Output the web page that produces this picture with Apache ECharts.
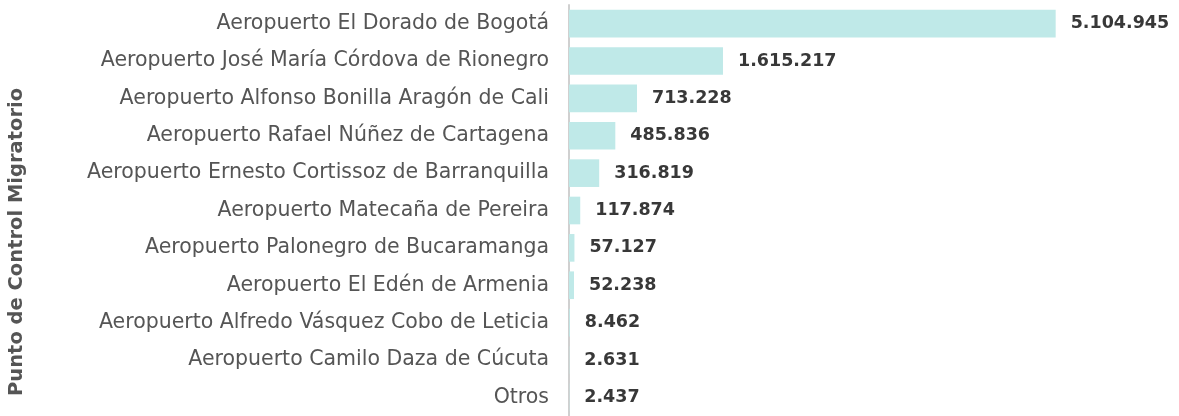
<!DOCTYPE html>
<html><head><meta charset="utf-8">
<script src="https://cdn.jsdelivr.net/npm/echarts@6/dist/echarts.min.js"></script>
<style>html,body{margin:0;padding:0;background:#fff}#c{width:1179px;height:416px}</style>
</head><body><div id="c"></div>
<script>
const categories = [
  "Aeropuerto El Dorado de Bogotá",
  "Aeropuerto José María Córdova de Rionegro",
  "Aeropuerto Alfonso Bonilla Aragón de Cali",
  "Aeropuerto Rafael Núñez de Cartagena",
  "Aeropuerto Ernesto Cortissoz de Barranquilla",
  "Aeropuerto Matecaña de Pereira",
  "Aeropuerto Palonegro de Bucaramanga",
  "Aeropuerto El Edén de Armenia",
  "Aeropuerto Alfredo Vásquez Cobo de Leticia",
  "Aeropuerto Camilo Daza de Cúcuta",
  "Otros"
];
const values = [5104945, 1615217, 713228, 485836, 316819, 117874, 57127, 52238, 8462, 2631, 2437];
const axisTitle = "Punto de Control Migratorio";

const FONT = "DejaVu Sans";
const chart = echarts.init(document.getElementById('c'), null, {renderer: 'canvas'});
const fmt = v => String(v).replace(/\B(?=(\d{3})+(?!\d))/g, '.');
chart.setOption({
  animation: false,
  textStyle: {fontFamily: FONT},
  grid: {left: 569, right: 38, top: 5, bottom: -6, containLabel: false},
  xAxis: {type: 'value', min: 0, max: 6000000, show: false},
  yAxis: {
    type: 'category', data: categories, inverse: true,
    axisLine: {show: true, lineStyle: {color: '#d0d0d0', width: 2}},
    axisTick: {show: false},
    axisLabel: {margin: 20, color: '#555', fontSize: 20.5, fontFamily: FONT}
  },
  graphic: [{
    type: 'text',
    style: {text: axisTitle, font: 'bold 19.5px "' + FONT + '"', fill: '#555'},
    rotation: Math.PI / 2,
    x: 7, y: 396
  }],
  series: [{
    type: 'bar', data: values, barCategoryGap: '26%',
    itemStyle: {color: '#bfe9e8'},
    label: {show: true, position: 'right', distance: 15, formatter: p => fmt(p.value),
      color: '#383838', fontWeight: 'bold', fontSize: 17.5, fontFamily: FONT}
  }]
});
</script></body></html>
